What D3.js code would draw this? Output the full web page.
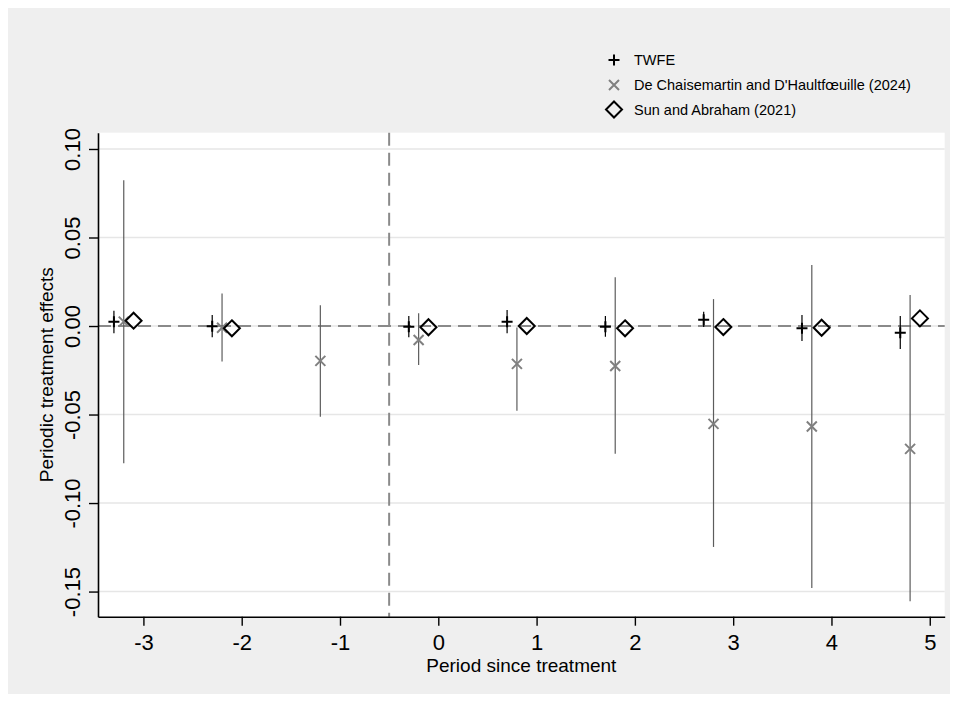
<!DOCTYPE html>
<html>
<head>
<meta charset="utf-8">
<script src="https://cdn.jsdelivr.net/npm/d3@7"></script>
<style>
  body { margin: 0; background: #fff; }
  svg { display: block; font-family: "Liberation Sans", Arial, Helvetica, sans-serif; }
</style>
</head>
<body>
<svg id="svg" width="958" height="702"></svg>
<script>
// periods since treatment
const periods = [-3, -2, -1, 0, 1, 2, 3, 4, 5];

// TWFE estimates and 95% CI (no estimate at -1, reference period)
const twfeEst = [0.0024, -0.0002, null, -0.0004, 0.0024, -0.0004, 0.0036, -0.0013, -0.0038];
const twfeLo  = [-0.0041, -0.0064, null, -0.0064, -0.0041, -0.0060, -0.0006, -0.0085, -0.0130];
const twfeHi  = [0.0086, 0.0062, null, 0.0056, 0.0090, 0.0056, 0.0080, 0.0062, 0.0056];

// De Chaisemartin and D'Haultfoeuille (2024)
const dcdhEst = [0.0025, -0.0010, -0.0197, -0.0079, -0.0214, -0.0226, -0.0553, -0.0568, -0.0694];
const dcdhLo  = [-0.0775, -0.0201, -0.0512, -0.0220, -0.0478, -0.0722, -0.1248, -0.1480, -0.1555];
const dcdhHi  = [0.0823, 0.0184, 0.0118, 0.0072, -0.0008, 0.0275, 0.0152, 0.0344, 0.0175];

// Sun and Abraham (2021)
const saEst = [0.0030, -0.0013, null, -0.0007, 0.0000, -0.0013, -0.0006, -0.0010, 0.0043];

const yTicks = [-0.15, -0.10, -0.05, 0, 0.05, 0.10];
const legendLabels = ["TWFE", "De Chaisemartin and D'Haultfœuille (2024)", "Sun and Abraham (2021)"];

const svg = d3.select("svg");

// outer gray panel
svg.append("rect")
    .attr("x", 8).attr("y", 8)
    .attr("width", 942).attr("height", 686)
    .style("fill", "#efefef");

const margin = {left: 98, top: 132.7, right: 13.3, bottom: 85.3};
const width = 958 - margin.left - margin.right;
const height = 702 - margin.top - margin.bottom;

const g = svg.append("g").attr("transform", "translate(" + margin.left + "," + margin.top + ")");

g.append("rect")
    .attr("width", width).attr("height", height)
    .style("fill", "#fff");

var xScale = d3.scaleLinear().domain([-3.462, 5.152]).range([0, width]),
    yScale = d3.scaleLinear().domain([-0.1642, 0.1092]).range([height, 0]);

// horizontal grid
g.selectAll(".grid")
    .data(yTicks)
    .enter().append("line")
    .attr("x1", 0).attr("x2", width)
    .attr("y1", d => yScale(d)).attr("y2", d => yScale(d))
    .style("stroke", "#e6e6e6")
    .style("stroke-width", 1.6);

// reference lines
g.append("line")
    .attr("x1", 0).attr("x2", width)
    .attr("y1", yScale(0)).attr("y2", yScale(0))
    .style("stroke", "#8a8a8a").style("stroke-width", 2)
    .style("stroke-dasharray", "13,7");

g.append("line")
    .attr("x1", xScale(-0.5)).attr("x2", xScale(-0.5))
    .attr("y1", 0).attr("y2", height)
    .style("stroke", "#8a8a8a").style("stroke-width", 2)
    .style("stroke-dasharray", "13,7");

const idx = d3.range(periods.length);

// dCDH confidence intervals
g.selectAll(".ci-dcdh")
    .data(idx)
    .enter().append("line")
    .attr("x1", i => xScale(periods[i] - 0.2)).attr("x2", i => xScale(periods[i] - 0.2))
    .attr("y1", i => yScale(dcdhLo[i])).attr("y2", i => yScale(dcdhHi[i]))
    .style("stroke", "#5c5c5c").style("stroke-width", 1.2);

// TWFE confidence intervals
g.selectAll(".ci-twfe")
    .data(idx.filter(i => twfeEst[i] !== null))
    .enter().append("line")
    .attr("x1", i => xScale(periods[i] - 0.3)).attr("x2", i => xScale(periods[i] - 0.3))
    .attr("y1", i => yScale(twfeLo[i])).attr("y2", i => yScale(twfeHi[i]))
    .style("stroke", "#000").style("stroke-width", 1.2);

const plusPath = "M-5.5,0H5.5M0,-5.5V5.5";
const crossPath = "M-5,-5L5,5M-5,5L5,-5";
const diamondPath = "M0,-8L8,0L0,8L-8,0Z";

// markers
g.selectAll(".m-dcdh")
    .data(idx)
    .enter().append("path")
    .attr("d", crossPath)
    .attr("transform", i => "translate(" + xScale(periods[i] - 0.2) + "," + yScale(dcdhEst[i]) + ")")
    .style("fill", "none").style("stroke", "#808080").style("stroke-width", 2);

g.selectAll(".m-twfe")
    .data(idx.filter(i => twfeEst[i] !== null))
    .enter().append("path")
    .attr("d", plusPath)
    .attr("transform", i => "translate(" + xScale(periods[i] - 0.3) + "," + yScale(twfeEst[i]) + ")")
    .style("fill", "none").style("stroke", "#000").style("stroke-width", 2);

g.selectAll(".m-sa")
    .data(idx.filter(i => saEst[i] !== null))
    .enter().append("path")
    .attr("d", diamondPath)
    .attr("transform", i => "translate(" + xScale(periods[i] - 0.1) + "," + yScale(saEst[i]) + ")")
    .style("fill", "none").style("stroke", "#000").style("stroke-width", 2);

// axes
const xAxis = g.append("g")
    .attr("transform", "translate(0," + height + ")")
    .call(d3.axisBottom(xScale).tickValues(periods).tickFormat(d => String(d)).tickSize(9).tickSizeOuter(0));

const yAxis = g.append("g")
    .call(d3.axisLeft(yScale).tickValues(yTicks).tickFormat(d => d.toFixed(2)).tickSize(9).tickSizeOuter(0));

[xAxis, yAxis].forEach(a => {
    a.select(".domain").style("stroke", "#000").style("stroke-width", 1.6);
    a.selectAll(".tick line").style("stroke", "#000").style("stroke-width", 1.4);
    a.selectAll("text")
        .style("font-family", "'Liberation Sans', Arial, Helvetica, sans-serif")
        .style("font-size", "22px")
        .style("fill", "#000");
});

xAxis.selectAll("text").attr("y", 0).attr("dy", 0)
    .attr("transform", "translate(0,33)");

yAxis.selectAll("text")
    .attr("x", 0).attr("dy", 0)
    .attr("text-anchor", "middle")
    .attr("transform", "translate(-18,0) rotate(-90)");

// axis titles
svg.append("text")
    .attr("x", margin.left + width / 2).attr("y", 672)
    .attr("text-anchor", "middle")
    .style("font-size", "19px")
    .text("Period since treatment");

svg.append("text")
    .attr("transform", "translate(53," + (margin.top + height / 2) + ") rotate(-90)")
    .attr("text-anchor", "middle")
    .style("font-size", "19px")
    .text("Periodic treatment effects");

// legend
const legendY = [60, 85, 109.5];
const legendMarks = [
    {d: plusPath, stroke: "#000"},
    {d: crossPath, stroke: "#808080"},
    {d: diamondPath, stroke: "#000"}
];
legendLabels.forEach((label, i) => {
    svg.append("path")
        .attr("d", legendMarks[i].d)
        .attr("transform", "translate(614," + legendY[i] + ")")
        .style("fill", "none").style("stroke", legendMarks[i].stroke).style("stroke-width", 2);
    svg.append("text")
        .attr("x", 634).attr("y", legendY[i] + 5)
        .style("font-size", "14.5px")
        .style("fill", "#000")
        .text(label);
});
</script>
</body>
</html>
